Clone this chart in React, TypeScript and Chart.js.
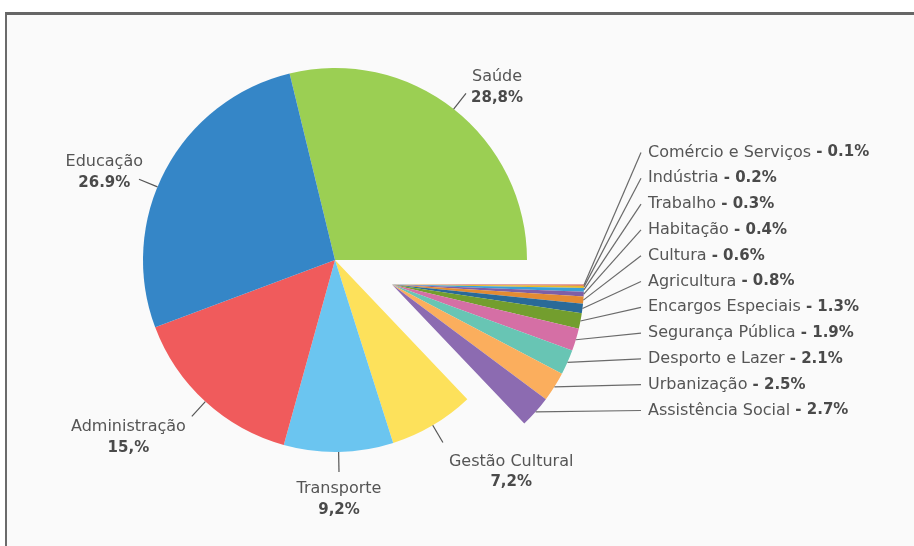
import React, { useEffect, useRef } from "react";
import { Chart, registerables } from "chart.js";

Chart.register(...registerables);

// ---- data ----
const categories = [
  "Saúde",
  "Comércio e Serviços",
  "Indústria",
  "Trabalho",
  "Habitação",
  "Cultura",
  "Agricultura",
  "Encargos Especiais",
  "Segurança Pública",
  "Desporto e Lazer",
  "Urbanização",
  "Assistência Social",
  "Gestão Cultural",
  "Transporte",
  "Administração",
  "Educação",
];
const values = [28.8, 0.1, 0.2, 0.3, 0.4, 0.6, 0.8, 1.3, 1.9, 2.1, 2.5, 2.7, 7.2, 9.2, 15.0, 26.9];
const valueLabels = [
  "28,8%", "0.1%", "0.2%", "0.3%", "0.4%", "0.6%", "0.8%", "1.3%", "1.9%", "2.1%", "2.5%", "2.7%",
  "7,2%", "9,2%", "15,%", "26.9%",
];
const explodedGroup = [false, true, true, true, true, true, true, true, true, true, true, true, false, false, false, false];

// ---- style ----
const colors = [
  "#9bcf53", "#cf4a4d", "#e8b92a", "#39a0d6", "#7e5fa6", "#e38b33", "#2a6a98", "#739e2e",
  "#d56fa5", "#68c5b4", "#fbae5d", "#8c6bb1", "#fde15b", "#6bc5f0", "#f05b5c", "#3586c7",
];
// label placement tweaks (leader angle shift in degrees, text dx, text dy)
const labelTweaks: Record<string, { da: number; dx: number; dy: number }> = {
  "Educação": { da: -5.5, dx: 10, dy: -8 },
  "Gestão Cultural": { da: 0, dx: 0, dy: 6 },
};
const FONT = '"DejaVu Sans", sans-serif';
const FS = 16;
const FSB = 15;
const EXPLODE = 62;

function groupShift(meta: any) {
  const idx = explodedGroup.map((e, i) => (e ? i : -1)).filter((i) => i >= 0);
  const a0 = meta.data[idx[0]].startAngle;
  const a1 = meta.data[idx[idx.length - 1]].endAngle;
  const mid = (a0 + a1) / 2;
  return { dx: Math.cos(mid) * EXPLODE, dy: Math.sin(mid) * EXPLODE };
}

const explodePlugin = {
  id: "explodeGroup",
  beforeDatasetDraw(chart: any, args: any) {
    const meta = args.meta;
    const ctx = chart.ctx;
    const { dx, dy } = groupShift(meta);
    meta.data.forEach((arc: any, i: number) => {
      ctx.save();
      if (explodedGroup[i]) ctx.translate(dx, dy);
      arc.draw(ctx);
      ctx.restore();
    });
    return false;
  },
  afterDatasetsDraw(chart: any) {
    const meta = chart.getDatasetMeta(0);
    const ctx = chart.ctx;
    const { dx, dy } = groupShift(meta);
    ctx.save();
    ctx.textBaseline = "middle";
    let j = 0;
    meta.data.forEach((arc: any, i: number) => {
      const tw = labelTweaks[categories[i]] || { da: 0, dx: 0, dy: 0 };
      const mid = (arc.startAngle + arc.endAngle) / 2 + (tw.da * Math.PI) / 180;
      const cx = arc.x + (explodedGroup[i] ? dx : 0);
      const cy = arc.y + (explodedGroup[i] ? dy : 0);
      const r = arc.outerRadius;
      const ux = Math.cos(mid);
      const uy = Math.sin(mid);
      const ex = cx + ux * r;
      const ey = cy + uy * r;
      if (explodedGroup[i]) {
        const ly = 152.5 + j * 25.8;
        const lx = 641;
        j++;
        ctx.strokeStyle = "#6a6a6a";
        ctx.lineWidth = 1.2;
        ctx.beginPath();
        ctx.moveTo(ex, ey);
        ctx.lineTo(lx, ly);
        ctx.stroke();
        ctx.textAlign = "left";
        ctx.font = `${FS}px ${FONT}`;
        ctx.fillStyle = "#555555";
        const name = categories[i] + " ";
        ctx.fillText(name, lx + 7, ly);
        const w = ctx.measureText(name).width;
        ctx.font = `bold ${FSB}px ${FONT}`;
        ctx.fillStyle = "#4a4a4a";
        ctx.fillText("- " + valueLabels[i], lx + 7 + w, ly);
      } else {
        const px = cx + ux * (r + 20);
        const py = cy + uy * (r + 20);
        ctx.strokeStyle = "#555555";
        ctx.lineWidth = 1.2;
        ctx.beginPath();
        ctx.moveTo(ex, ey);
        ctx.lineTo(px, py);
        ctx.stroke();
        ctx.font = `${FS}px ${FONT}`;
        const w = Math.max(ctx.measureText(categories[i]).width, 40);
        let tx: number;
        let y1: number;
        if (Math.abs(ux) < 0.25) {
          tx = px;
          y1 = py + (uy > 0 ? 17 : -38);
        } else {
          const side = ux > 0 ? 1 : -1;
          tx = px + side * (w / 2 + 6);
          const c = py + 8 + 18 * uy;
          y1 = c - 10.5;
        }
        tx += tw.dx;
        y1 += tw.dy;
        ctx.textAlign = "center";
        ctx.fillStyle = "#555555";
        ctx.font = `${FS}px ${FONT}`;
        ctx.fillText(categories[i], tx, y1);
        ctx.fillStyle = "#4a4a4a";
        ctx.font = `bold ${FSB}px ${FONT}`;
        ctx.fillText(valueLabels[i], tx, y1 + 21);
      }
    });
    ctx.restore();
  },
};

export default function App() {
  const ref = useRef<HTMLCanvasElement>(null);
  useEffect(() => {
    if (!ref.current) return;
    const chart = new Chart(ref.current, {
      type: "pie",
      data: {
        labels: categories,
        datasets: [
          {
            data: values,
            backgroundColor: colors,
            borderWidth: 0,
          },
        ],
      },
      options: {
        responsive: false,
        animation: false,
        devicePixelRatio: 1,
        rotation: -13.68,
        layout: { padding: { left: 143, top: 68, right: 387, bottom: 94 } },
        plugins: {
          legend: { display: false },
          tooltip: { enabled: false },
        },
      } as any,
      plugins: [explodePlugin],
    });
    return () => chart.destroy();
  }, []);
  return (
    <div style={{ position: "fixed", left: 0, top: 0, width: 914, height: 546, background: "#ffffff", overflow: "hidden" }}>
      <div
        style={{
          position: "absolute",
          left: 5,
          top: 12,
          width: 960,
          height: 600,
          borderTop: "3px solid #666666",
          borderLeft: "2px solid #6b6b6b",
          background: "#fafafa",
        }}
      />
      <canvas ref={ref} width={914} height={546} style={{ position: "absolute", left: 0, top: 0 }} />
    </div>
  );
}
